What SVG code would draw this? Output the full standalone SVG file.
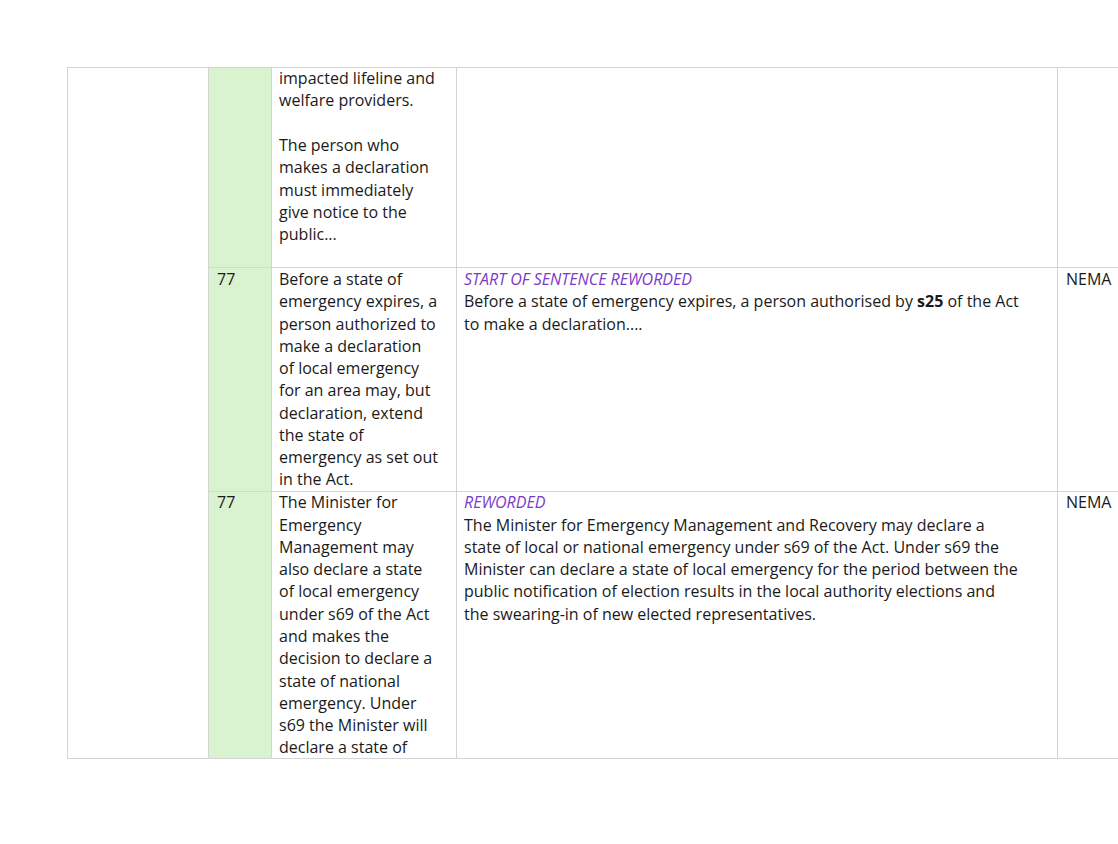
<svg xmlns="http://www.w3.org/2000/svg" width="1118" height="844" viewBox="0 0 1118 844">
<style>
text{font-family:"Open Sans","Noto Sans",sans-serif;font-size:16px;fill:#1a1a1a}
.p{fill:#7a3bc8;font-style:italic}
.l{stroke:#d4d4d4;stroke-width:1;fill:none}
</style>
<rect width="1118" height="844" fill="#fff"/>
<rect x="208" y="67" width="63" height="692" fill="#d9f2d0"/>
<g id="grid">
<rect class="l" x="67.5" y="67.5" width="1060" height="691"/>
<line class="l" x1="208.5" y1="67" x2="208.5" y2="759"/>
<line class="l" x1="271.5" y1="67" x2="271.5" y2="759"/>
<line class="l" x1="456.5" y1="67" x2="456.5" y2="759"/>
<line class="l" x1="1057.5" y1="67" x2="1057.5" y2="759"/>
<line class="l" x1="208" y1="267.5" x2="1118" y2="267.5"/>
<line class="l" x1="208" y1="491.5" x2="1118" y2="491.5"/>
</g>
<g id="row1">
<text x="279" y="84">impacted lifeline and</text>
<text x="279" y="106">welfare providers.</text>
<text x="279" y="151">The person who</text>
<text x="279" y="173">makes a declaration</text>
<text x="279" y="196">must immediately</text>
<text x="279" y="218">give notice to the</text>
<text x="279" y="240">public...</text>
</g>
<g id="row2">
<text x="217" y="285">77</text>
<text x="279" y="285">Before a state of</text>
<text x="279" y="307">emergency expires, a</text>
<text x="279" y="330">person authorized to</text>
<text x="279" y="352">make a declaration</text>
<text x="279" y="374">of local emergency</text>
<text x="279" y="396">for an area may, but</text>
<text x="279" y="419">declaration, extend</text>
<text x="279" y="441">the state of</text>
<text x="279" y="463">emergency as set out</text>
<text x="279" y="485">in the Act.</text>
<text class="p" x="464" y="285">START OF SENTENCE REWORDED</text>
<text x="464" y="307">Before a state of emergency expires, a person authorised by <tspan font-weight="bold">s25</tspan> of the Act</text>
<text x="464" y="330">to make a declaration....</text>
<text x="1066" y="285">NEMA</text>
</g>
<g id="row3">
<text x="217" y="508">77</text>
<text x="279" y="508">The Minister for</text>
<text x="279" y="531">Emergency</text>
<text x="279" y="553">Management may</text>
<text x="279" y="575">also declare a state</text>
<text x="279" y="597">of local emergency</text>
<text x="279" y="620">under s69 of the Act</text>
<text x="279" y="642">and makes the</text>
<text x="279" y="664">decision to declare a</text>
<text x="279" y="687">state of national</text>
<text x="279" y="709">emergency. Under</text>
<text x="279" y="731">s69 the Minister will</text>
<text x="279" y="753">declare a state of</text>
<text class="p" x="464" y="508">REWORDED</text>
<text x="464" y="531">The Minister for Emergency Management and Recovery may declare a</text>
<text x="464" y="553">state of local or national emergency under s69 of the Act. Under s69 the</text>
<text x="464" y="575">Minister can declare a state of local emergency for the period between the</text>
<text x="464" y="597">public notification of election results in the local authority elections and</text>
<text x="464" y="620">the swearing-in of new elected representatives.</text>
<text x="1066" y="508">NEMA</text>
</g>
</svg>
